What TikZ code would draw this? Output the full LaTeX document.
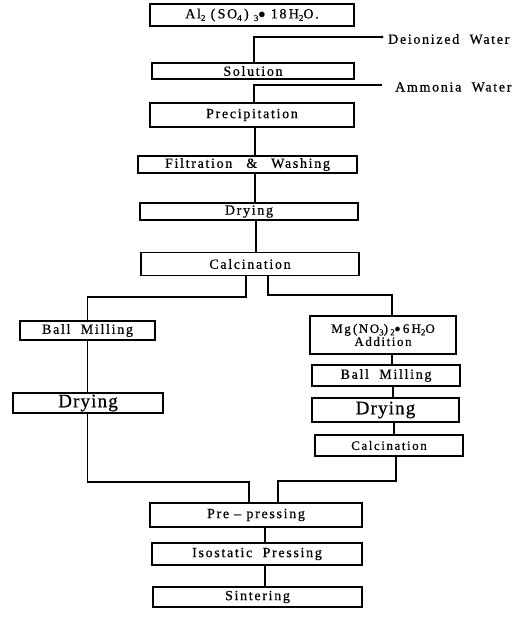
\documentclass[tikz,border=0pt]{standalone}
\usepackage{fontspec}
\setmainfont{Liberation Serif}
\newfontfamily\lbl{Liberation Serif}[LetterSpace=12,FakeBold=0.6]
\newfontfamily\lblbig{Liberation Serif}[LetterSpace=6,FakeBold=0.6]
\newcommand{\chsub}[1]{\raisebox{-0.4ex}{\fontsize{9}{9}\selectfont #1}}
\begin{document}
\begin{tikzpicture}[x=1pt,y=-1pt,
  box/.style={draw,line width=1.2pt,inner sep=0pt,font=\lbl\fontsize{14}{16}\selectfont,align=center},
  conn/.style={line width=1.2pt},
  side/.style={anchor=west,inner sep=0pt,font=\lbl\fontsize{14}{16}\selectfont}]
\useasboundingbox (0,0) rectangle (528,626);
% main column
\node[box,minimum width=204,minimum height=22] (b1) at (252,15) {Al\chsub{2}\ (\,SO\chsub{4}\,)\ \chsub{3}$\bullet$\ 18\,H\chsub{2}O.};
\node[box,minimum width=202,minimum height=16] (sol) at (253,71) {Solution};
\node[box,minimum width=204,minimum height=24] (prec) at (252,115) {Precipitation};
\node[box,minimum width=219,minimum height=17] (filt) at (247.5,164.5) {Filtration\quad\&\quad Washing};
\node[box,minimum width=218,minimum height=17] (dry) at (249,211.5) {Drying};
\node[box,minimum width=218,minimum height=23] (calc) at (250,264) {Calcination};
% left branch
\node[box,minimum width=135,minimum height=19] (bm1) at (87.5,330.5) {Ball\ \ Milling};
\node[box,minimum width=150,minimum height=20,font=\lblbig\fontsize{19}{20}\selectfont] (dr1) at (88,403) {Drying};
% right branch
\node[box,minimum width=146,minimum height=38,font=\lbl\fontsize{13}{13}\selectfont] (mg) at (383,335) {Mg\,(NO\chsub{3})\,\chsub{2}$\bullet$\,6\,H\chsub{2}O\\Addition};
\node[box,minimum width=148,minimum height=21] (bm2) at (386,375.5) {Ball\ \ Milling};
\node[box,minimum width=147,minimum height=24,font=\lblbig\fontsize{19}{20}\selectfont] (dr2) at (385.5,410) {Drying};
\node[box,minimum width=148,minimum height=21,font=\lbl\fontsize{13}{14}\selectfont] (ca2) at (389,445.5) {Calcination};
% bottom
\node[box,minimum width=212,minimum height=24] (pre) at (256,515) {Pre\ –\ pressing};
\node[box,minimum width=210,minimum height=22] (iso) at (257,554) {Isostatic\ \ Pressing};
\node[box,minimum width=209,minimum height=20] (sin) at (257.5,597) {Sintering};
% water inputs
\coordinate (j1) at (254,37);
\coordinate (dw) at (382,37);
\coordinate (j2) at (254,85);
\coordinate (aw) at (382,85);
\node[side] (dwl) at (388,39) {Deionized\ \ Water};
\node[side] (awl) at (395,87) {Ammonia\ \ Water};
\draw[conn] (dw) -- (j1) -- (sol.north -| j1);
\fill (dw) circle (1.6);
\draw[conn] (aw) -- (j2) -- (prec.north -| j2);
% main chain
\draw[conn] (prec.south -| 255,0) -- (filt.north -| 255,0);
\draw[conn] (filt.south -| 255,0) -- (dry.north -| 255,0);
\draw[conn] (dry.south -| 256,0) -- (calc.north -| 256,0);
% branches
\coordinate (lb) at (246,297);
\coordinate (rb) at (268,295);
\draw[conn] (calc.south -| lb) -- (lb) -- (lb -| bm1.north) -- (bm1.north);
\draw[conn] (calc.south -| rb) -- (rb) -- (rb -| 392,0) -- (mg.north -| 392,0);
\draw[conn] (bm1.south) -- (dr1.north -| bm1.south);
\draw[conn] (mg.south -| 392,0) -- (bm2.north -| 392,0);
\draw[conn] (bm2.south -| 393,0) -- (dr2.north -| 393,0);
\draw[conn] (dr2.south -| 394,0) -- (ca2.north -| 394,0);
% joins
\coordinate (lj) at (249,482);
\coordinate (rj) at (278,481);
\draw[conn] (dr1.south -| bm1.south) -- (lj -| bm1.south) -- (lj) -- (pre.north -| lj);
\draw[conn] (ca2.south -| 396,0) -- (rj -| 396,0) -- (rj) -- (pre.north -| rj);
\draw[conn] (pre.south -| 265,0) -- (iso.north -| 265,0);
\draw[conn] (iso.south -| 265,0) -- (sin.north -| 265,0);
\end{tikzpicture}
\end{document}
